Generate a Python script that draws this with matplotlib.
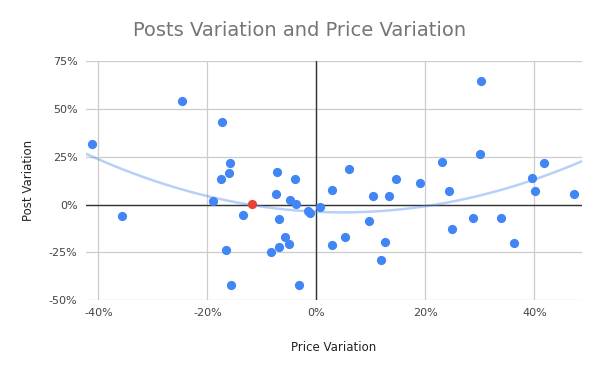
import numpy as np
import matplotlib
matplotlib.use("Agg")
import matplotlib.pyplot as plt
from matplotlib.ticker import FuncFormatter

# Price variation (%) and post variation (%)
price = [-41.2, -35.6, -24.6, -19.0, -17.5, -17.4, -16.6, -16.0, -15.8, -15.7,
         -13.4, -8.3, -7.4, -7.2, -6.9, -6.8, -5.8, -5.0, -4.8, -4.0,
         -3.7, -3.2, -1.5, -1.1, 0.6, 2.8, 2.9, 5.2, 5.9, 9.6,
         10.3, 11.9, 12.6, 13.4, 14.7, 19.0, 23.1, 24.3, 24.9, 28.8,
         30.0, 30.2, 33.8, 36.3, 39.6, 40.1, 41.8, 47.3]
posts = [31.9, -6.1, 54.4, 1.9, 13.4, 43.0, -23.7, 16.4, 21.6, -42.2,
         -5.6, -25.1, 5.6, 17.2, -22.1, -7.7, -17.1, -20.7, 2.4, 13.4,
         0.4, -42.0, -3.3, -4.5, -1.2, 7.6, -21.3, -17.2, 18.5, -8.4,
         4.4, -28.9, -19.5, 4.2, 13.6, 11.5, 22.1, 7.1, -12.9, -7.0,
         26.3, 64.8, -7.0, -20.1, 14.1, 7.1, 21.6, 5.7]
# Highlighted point
hl_price = [-11.8]
hl_posts = [0.4]

x_ticks = [-40, -20, 0, 20, 40]
y_ticks = [-50, -25, 0, 25, 50, 75]

fig = plt.figure(figsize=(6, 3.71), dpi=100)
ax = fig.add_axes([0.143, 0.1914, 0.8267, 0.6434])
ax.set_axisbelow(True)

blue = "#4285F4"
red = "#EA4335"

all_x = np.array(price + hl_price)
all_y = np.array(posts + hl_posts)
coef = np.polyfit(all_x, all_y, 2)
xs = np.linspace(-42.3, 48.7, 300)
ax.plot(xs, np.polyval(coef, xs), color=blue, alpha=0.38, lw=1.8, zorder=3)

ax.scatter(price, posts, s=44, color=blue, zorder=4, linewidths=0)
ax.scatter(hl_price, hl_posts, s=44, color=red, zorder=5, linewidths=0)

ax.set_xlim(-42.3, 48.7)
ax.set_ylim(-50, 75)
ax.set_xticks(x_ticks)
ax.set_yticks(y_ticks)
fmt = FuncFormatter(lambda v, p: f"{v:.0f}%")
ax.xaxis.set_major_formatter(fmt)
ax.yaxis.set_major_formatter(fmt)

ax.grid(True, color="#cccccc", lw=0.9)
ax.axhline(0, color="#333333", lw=1.0, zorder=2)
ax.axvline(0, color="#333333", lw=1.0, zorder=2)
for s in ax.spines.values():
    s.set_visible(False)
ax.tick_params(length=0, labelsize=8, colors="#444444", pad=6)

ax.set_xlabel("Price Variation", fontsize=8.5, color="#222222", labelpad=16)
ax.set_ylabel("Post Variation", fontsize=8.5, color="#222222", labelpad=10)
fig.text(0.5, 0.918, "Posts Variation and Price Variation", ha="center", va="center",
         fontsize=14, color="#757575")

fig.savefig("out.png", dpi=100)
